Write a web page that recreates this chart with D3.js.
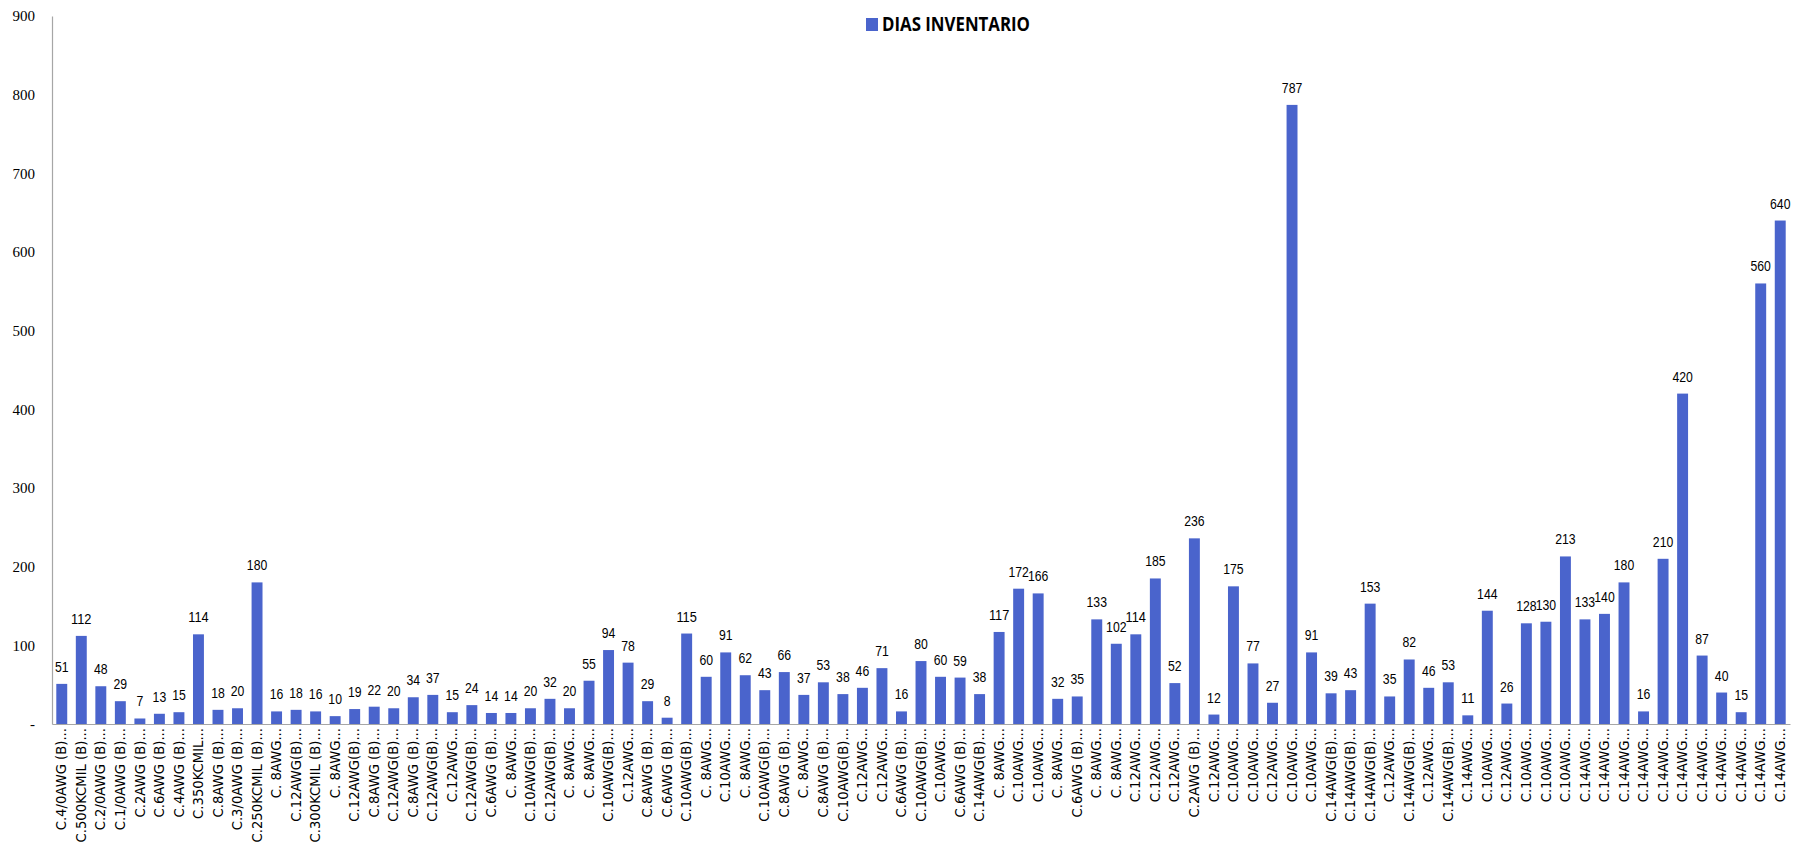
<!DOCTYPE html>
<html>
<head>
<meta charset="utf-8">
<script src="https://cdn.jsdelivr.net/npm/d3@7"></script>
<style>
  html, body { margin: 0; padding: 0; background: #fff; }
  svg { display: block; }
</style>
</head>
<body>
<svg id="chart" width="1814" height="847"></svg>
<script>
const categories = [
  "C.4/0AWG (B)...", "C.500KCMIL (B)...", "C.2/0AWG (B)...", "C.1/0AWG (B)...", "C.2AWG (B)...",
  "C.6AWG (B)...", "C.4AWG (B)...", "C.350KCMIL...", "C.8AWG (B)...", "C.3/0AWG (B)...",
  "C.250KCMIL (B)...", "C. 8AWG...", "C.12AWG(B)...", "C.300KCMIL (B)...", "C. 8AWG...",
  "C.12AWG(B)...", "C.8AWG (B)...", "C.12AWG(B)...", "C.8AWG (B)...", "C.12AWG(B)...",
  "C.12AWG...", "C.12AWG(B)...", "C.6AWG (B)...", "C. 8AWG...", "C.10AWG(B)...",
  "C.12AWG(B)...", "C. 8AWG...", "C. 8AWG...", "C.10AWG(B)...", "C.12AWG...",
  "C.8AWG (B)...", "C.6AWG (B)...", "C.10AWG(B)...", "C. 8AWG...", "C.10AWG...",
  "C. 8AWG...", "C.10AWG(B)...", "C.8AWG (B)...", "C. 8AWG...", "C.8AWG (B)...",
  "C.10AWG(B)...", "C.12AWG...", "C.12AWG...", "C.6AWG (B)...", "C.10AWG(B)...",
  "C.10AWG...", "C.6AWG (B)...", "C.14AWG(B)...", "C. 8AWG...", "C.10AWG...",
  "C.10AWG...", "C. 8AWG...", "C.6AWG (B)...", "C. 8AWG...", "C. 8AWG...",
  "C.12AWG...", "C.12AWG...", "C.12AWG...", "C.2AWG (B)...", "C.12AWG...",
  "C.10AWG...", "C.10AWG...", "C.12AWG...", "C.10AWG...", "C.10AWG...",
  "C.14AWG(B)...", "C.14AWG(B)...", "C.14AWG(B)...", "C.12AWG...", "C.14AWG(B)...",
  "C.12AWG...", "C.14AWG(B)...", "C.14AWG...", "C.10AWG...", "C.12AWG...",
  "C.10AWG...", "C.10AWG...", "C.10AWG...", "C.14AWG...", "C.14AWG...",
  "C.14AWG...", "C.14AWG...", "C.14AWG...", "C.14AWG...", "C.14AWG...",
  "C.14AWG...", "C.14AWG...", "C.14AWG...", "C.14AWG..."
];
const diasInventario = [
  51, 112, 48, 29, 7, 13, 15, 114, 18, 20,
  180, 16, 18, 16, 10, 19, 22, 20, 34, 37,
  15, 24, 14, 14, 20, 32, 20, 55, 94, 78,
  29, 8, 115, 60, 91, 62, 43, 66, 37, 53,
  38, 46, 71, 16, 80, 60, 59, 38, 117, 172,
  166, 32, 35, 133, 102, 114, 185, 52, 236, 12,
  175, 77, 27, 787, 91, 39, 43, 153, 35, 82,
  46, 53, 11, 144, 26, 128, 130, 213, 133, 140,
  180, 16, 210, 420, 87, 40, 15, 560, 640
];
const yTickValues = [0, 100, 200, 300, 400, 500, 600, 700, 800, 900];
const yTickLabels = ["-", "100", "200", "300", "400", "500", "600", "700", "800", "900"];
const seriesName = "DIAS INVENTARIO";

(function () {
  const svg = d3.select("#chart");
  const pLeft = 52, pRight = 1790, pTop = 16, pBottom = 724;
  const color = "#4a64cc";

  const data = categories.map((c, i) => ({ i, cat: c, v: diasInventario[i] }));

  const x = d3.scaleBand()
    .domain(data.map(d => d.i))
    .range([pLeft, pRight])
    .paddingInner(0.44)
    .paddingOuter(0.22);

  const y = d3.scaleLinear().domain([0, 900]).range([pBottom, pTop]);

  // bars
  svg.append("g").selectAll("rect").data(data).join("rect")
    .attr("x", d => x(d.i))
    .attr("y", d => y(d.v))
    .attr("width", x.bandwidth())
    .attr("height", d => y(0) - y(d.v))
    .attr("fill", color);

  // y axis
  const yAxis = d3.axisLeft(y)
    .tickValues(yTickValues)
    .tickSize(0)
    .tickPadding(17)
    .tickFormat((d, i) => yTickLabels[i]);
  const gy = svg.append("g").attr("transform", `translate(${pLeft},0)`).call(yAxis);
  gy.select(".domain").attr("stroke", "#a6a6a6").attr("stroke-width", 1.2);
  gy.selectAll("text")
    .attr("font-family", "'Liberation Serif', 'DejaVu Serif', serif")
    .attr("font-size", 15)
    .attr("fill", "#000");

  // x axis
  const xAxis = d3.axisBottom(x).tickSize(0).tickFormat(i => categories[i]);
  const gx = svg.append("g").attr("transform", `translate(0,${pBottom})`).call(xAxis);
  gx.select(".domain").attr("stroke", "#a6a6a6").attr("stroke-width", 1.2);
  gx.selectAll("text")
    .attr("font-family", "'DejaVu Sans', sans-serif")
    .attr("font-size", 13.2)
    .attr("fill", "#000")
    .attr("text-anchor", "end")
    .attr("transform", "rotate(-90)")
    .attr("x", -4)
    .attr("y", 0)
    .attr("dy", "0.35em");

  // data labels
  svg.append("g").selectAll("text").data(data).join("text")
    .attr("x", d => x(d.i) + x.bandwidth() / 2)
    .attr("y", d => y(d.v) - 12)
    .attr("text-anchor", "middle")
    .attr("font-family", "'Liberation Sans', Arial, sans-serif")
    .attr("font-size", 15)
    .attr("textLength", d => String(d.v).length * 6.8)
    .attr("lengthAdjust", "spacingAndGlyphs")
    .attr("fill", "#000")
    .text(d => d.v);

  // legend
  const lg = svg.append("g");
  lg.append("rect").attr("x", 866).attr("y", 18).attr("width", 12).attr("height", 13).attr("fill", color);
  lg.append("text")
    .attr("x", 882).attr("y", 31)
    .attr("font-family", "'Open Sans', 'Liberation Sans', sans-serif")
    .attr("font-weight", "bold")
    .attr("font-size", 19)
    .attr("textLength", 148)
    .attr("lengthAdjust", "spacingAndGlyphs")
    .attr("fill", "#000")
    .text(seriesName);
})();
</script>
</body>
</html>
